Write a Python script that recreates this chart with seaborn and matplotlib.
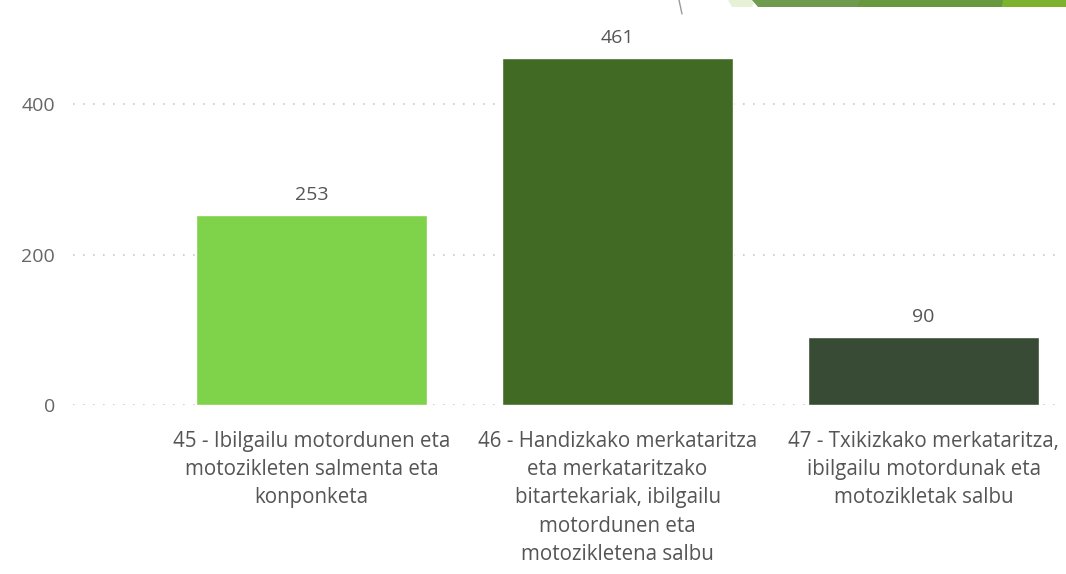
import matplotlib
matplotlib.use("Agg")
import matplotlib.pyplot as plt
import seaborn as sns
import pandas as pd
from matplotlib.patches import Polygon

categories = [
    "45 - Ibilgailu motordunen eta\nmotozikleten salmenta eta\nkonponketa",
    "46 - Handizkako merkataritza\neta merkataritzako\nbitartekariak, ibilgailu\nmotordunen eta\nmotozikletena salbu",
    "47 - Txikizkako merkataritza,\nibilgailu motordunak eta\nmotozikletak salbu",
]
values = [253, 461, 90]
bar_colors = ["#7fd34a", "#416a24", "#384b34"]
yticks = [0, 200, 400]

sns.set_theme(style="white")
plt.rcParams["font.family"] = ["Open Sans", "DejaVu Sans"]

df = pd.DataFrame({"cat": categories, "val": values})

fig = plt.figure(figsize=(10.66, 5.74), dpi=100)
ax = fig.add_axes([0.0685, 0.2944, 0.927, 0.6551])
sns.barplot(data=df, x="cat", y="val", hue="cat", palette=bar_colors,
            width=0.755, legend=False, ax=ax, saturation=1)

ax.set_xlim(-0.78, 2.45)
ax.set_ylim(0, 500)
ax.set_yticks(yticks)
ax.set_yticklabels([str(t) for t in yticks], fontsize=14, color="#666666")
ax.set_xticks(range(len(categories)))
ax.set_xticklabels(categories, fontsize=14.8, color="#555555", linespacing=1.46,
                   va="top", ha="center")
ax.set_xlabel("")
ax.set_ylabel("")
for s in ax.spines.values():
    s.set_visible(False)
ax.grid(axis="y", color="#c8c8c8", linestyle=(0, (1, 5)), linewidth=1.2)
ax.set_axisbelow(True)
ax.tick_params(axis="y", length=0, pad=13)
ax.tick_params(axis="x", length=0, pad=18.5)

for i, v in enumerate(values):
    ax.annotate(str(v), (i, v), xytext=(0, 8), textcoords="offset points",
                ha="center", va="bottom", fontsize=14, color="#555555")

# top-right banner decoration
W, H = 1066, 574
def fpoly(pts, color):
    fig.patches.append(Polygon([(x / W, 1 - y / H) for x, y in pts], closed=True,
                               transform=fig.transFigure, facecolor=color,
                               edgecolor="none", zorder=0))
fpoly([(728, 0), (755, 0), (752, 7), (732, 7)], "#e6f1d8")
fpoly([(752, 0), (862, 0), (858, 7), (758, 7)], "#6e9b4e")
fpoly([(860, 0), (1005, 0), (1002, 7), (857, 7)], "#67983e")
fpoly([(1003, 0), (1066, 0), (1066, 7), (1002, 7)], "#7db22e")
fig.lines.append(plt.Line2D([679 / W, 682 / W], [1, 1 - 14 / H], transform=fig.transFigure,
                            color="#9a9a9a", linewidth=1))

fig.savefig("out.png", dpi=100)
